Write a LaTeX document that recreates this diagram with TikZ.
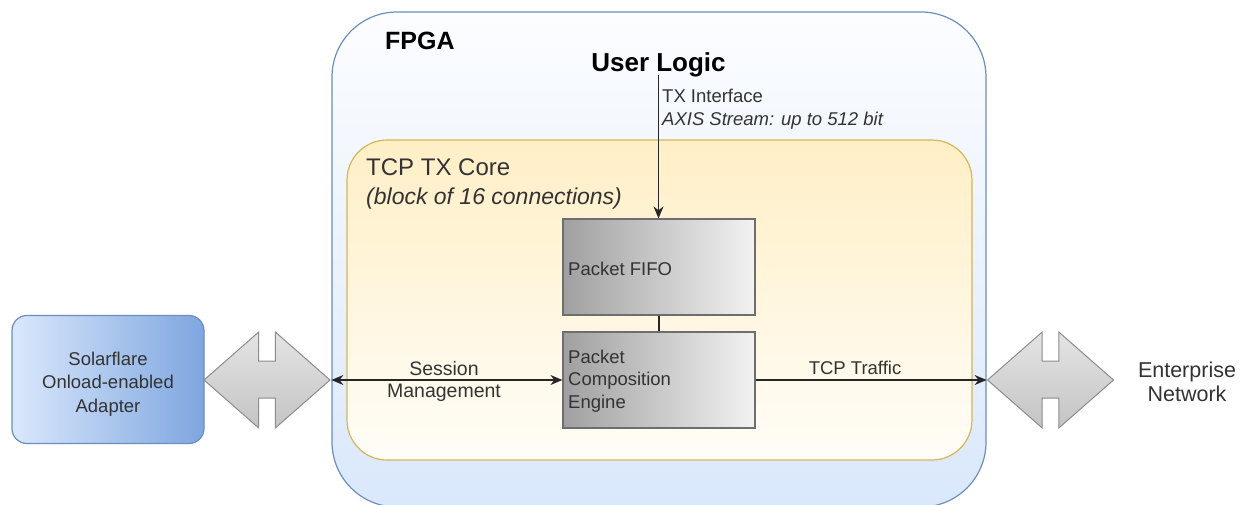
\documentclass[tikz,border=0pt]{standalone}
\usepackage{fontspec}
\setmainfont{Liberation Sans}
\usetikzlibrary{arrows.meta}
\definecolor{fpgaborder}{HTML}{6C8EBF}
\definecolor{fpgabot}{HTML}{DAE8FC}
\definecolor{fpgatop}{HTML}{FCFDFF}
\definecolor{coreborder}{HTML}{D6B656}
\definecolor{coretop}{HTML}{FFEFC6}
\definecolor{corebot}{HTML}{FFFDF8}
\definecolor{greyborder}{HTML}{6E6E6E}
\definecolor{greyleft}{HTML}{A0A0A0}
\definecolor{greyright}{HTML}{F2F2F2}
\definecolor{adleft}{HTML}{DAE8FC}
\definecolor{adright}{HTML}{7EA6E0}
\definecolor{arrowborder}{HTML}{8C8C8C}
\definecolor{arrowtop}{HTML}{E4E4E4}
\definecolor{arrowbot}{HTML}{C4C4C4}
\definecolor{txt}{HTML}{333333}
\tikzset{
  smalltext/.style={font=\fontsize{18.5}{22.5}\selectfont, text=txt, inner sep=0pt},
  greybox/.style={draw=greyborder, line width=1.2pt, left color=greyleft, right color=greyright,
    minimum width=192pt, minimum height=96pt, inner sep=0pt},
  conn/.style={line width=1.2pt, draw=black!85, >={Stealth[length=12pt,width=10pt]}},
  dblarrow/.style={draw=arrowborder, line width=1pt, top color=arrowtop, bottom color=arrowbot},
  notchshape/.pic={\path[dblarrow] (-63,0) -- (-8.3,-48) -- (-8.3,-19) -- (8.3,-19) -- (8.3,-48)
     -- (63,0) -- (8.3,48) -- (8.3,18) -- (-8.3,18) -- (-8.3,48) -- cycle;}
}
\begin{document}
\begin{tikzpicture}[x=1pt,y=-1pt]
\useasboundingbox[fill=white] (0,0) rectangle (1251,504);
% FPGA container
\node[draw=fpgaborder, line width=1.2pt, rounded corners=65pt, top color=fpgatop, bottom color=fpgabot,
  minimum width=654pt, minimum height=495pt, inner sep=0pt] (fpga) at (659,259.5) {};
% TCP TX core container
\node[draw=coreborder, line width=1.2pt, rounded corners=40pt, top color=coretop, bottom color=corebot,
  minimum width=625pt, minimum height=320pt, inner sep=0pt] (core) at (659.5,300) {};
% grey boxes
\node[greybox] (fifo) at (659,267) {};
\node[greybox] (pce) at (659,380) {};
% adapter
\node[draw=fpgaborder, line width=1.2pt, rounded corners=15pt, left color=adleft, right color=adright,
  minimum width=192pt, minimum height=128pt, inner sep=0pt] (adapter) at (108,379.5) {};
% double arrow shapes
\pic (leftlink) at (267,380) {notchshape};
\pic (rightlink) at (1050.5,380) {notchshape};
% titles
\node[anchor=base west, inner sep=0pt, font=\fontsize{25}{30}\selectfont\bfseries] (fpgalbl) at (385,49) {FPGA};
\node[anchor=base, inner sep=0pt, font=\fontsize{26}{31}\selectfont\bfseries] (ul) at (658.5,71) {User Logic};
\node[anchor=base west, inner sep=0pt, text=txt, font=\fontsize{24}{29}\selectfont] (corelbl) at (366,175) {TCP TX Core};
\node[anchor=base west, inner sep=0pt, text=txt, font=\fontsize{23}{28}\selectfont\itshape] (corelbl2) at (366,204) {(block of 16 connections)};
% texts
\node[smalltext, anchor=west, align=left] (txif) at (662,109) {TX Interface\\\textit{AXIS Stream: up to 512 bit}};
\node[smalltext, anchor=base west] (fifolbl) at (568,275) {Packet FIFO};
\node[smalltext, anchor=west, align=left] (pcelbl) at (568,381) {Packet\\Composition\\Engine};
\node[smalltext, align=center, font=\fontsize{18.5}{23.5}\selectfont] (adlbl) at (108,384) {Solarflare\\Onload-enabled\\Adapter};
\node[smalltext, align=center, font=\fontsize{21.5}{24}\selectfont] (entnet) at (1187,382) {Enterprise\\Network};
\node[smalltext, align=center, font=\fontsize{19.5}{22}\selectfont] (sesslbl) at (444,381) {Session\\Management};
\node[smalltext, anchor=base] (tcplbl) at (855,374) {TCP Traffic};
% connectors
\draw[conn, ->] (ul.south |- 0,75) -- (ul.south |- fifo.north);
\draw[conn] (fifo.south) -- (pce.north);
\draw[conn, <->] (fpga.west |- pce.west) -- (pce.west);
\draw[conn, ->] (pce.east) -- (pce.east -| fpga.east);
\end{tikzpicture}
\end{document}
